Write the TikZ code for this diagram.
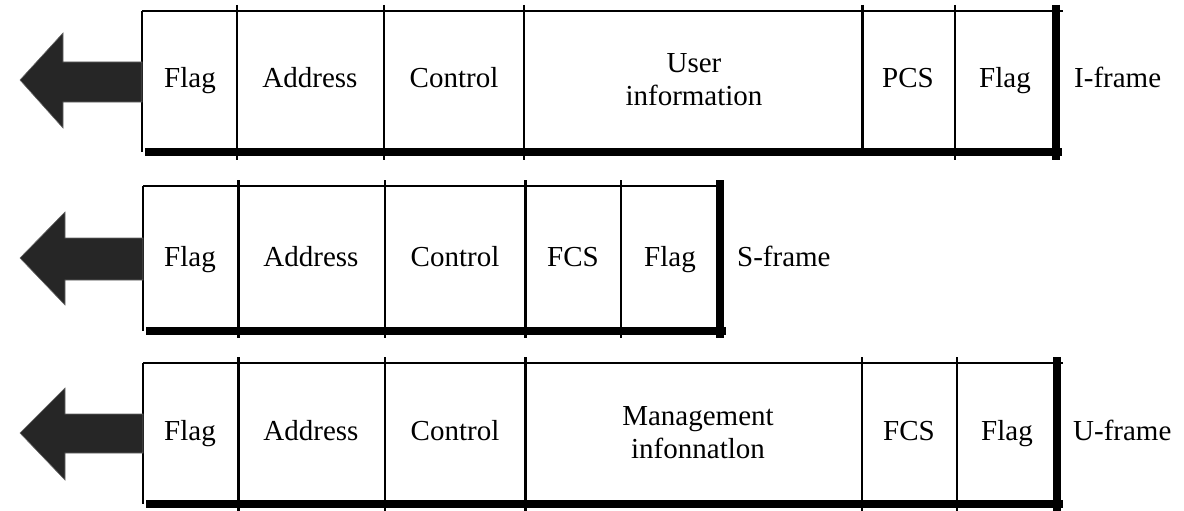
\documentclass[tikz,border=0pt]{standalone}
\usepackage{fontspec}
\setmainfont{Liberation Serif}
\begin{document}
\begin{tikzpicture}[x=1pt,y=-1pt,
  thinrule/.style={line width=1.3pt},
  midrule/.style={line width=3pt},
  heavyrule/.style={line width=8pt},
  lbl/.style={font=\fontsize{29}{35}\selectfont, text=black, inner sep=0pt, anchor=base},
  tag/.style={lbl, anchor=base west},
  flow/.style={fill=black!85, draw=black!60, line width=0.6pt}]
\useasboundingbox (0,0) rectangle (1184,511);

% ---------- I-frame ----------
\draw[thinrule] (142,11) -- (1063,11);
\draw[thinrule] (142,11) -- (142,152);
\foreach \x in {237,384,524,955} \draw[thinrule] (\x,5) -- (\x,160);
\draw[midrule] (862,5) -- (862,152);
\draw[heavyrule] (145,152) -- (1062,152);
\draw[heavyrule] (1056,5) -- (1056,160);
\fill[flow] (20,80) -- (63,33) -- (63,62) -- (142,62) -- (142,102) -- (63,102) -- (63,128) -- cycle;
\node[lbl] (iflag1) at (190,88) {Flag};
\node[lbl] (iaddr) at (310,88) {Address};
\node[lbl] (ictrl) at (454,88) {Control};
\node[lbl] (iuser) at (694,73) {User};
\node[lbl] (iinfo) at (694,106) {information};
\node[lbl] (ipcs) at (908,88) {PCS};
\node[lbl] (iflag2) at (1005,88) {Flag};
\node[tag] (itag) at (1074,88) {I-frame};

% ---------- S-frame ----------
\draw[thinrule] (143,186) -- (724,186);
\draw[thinrule] (143,186) -- (143,331);
\foreach \x in {385,621} \draw[thinrule] (\x,180) -- (\x,338);
\foreach \x in {238,525} \draw[midrule] (\x,180) -- (\x,338);
\draw[heavyrule] (146,331) -- (726,331);
\draw[heavyrule] (720,180) -- (720,338);
\fill[flow] (20,258) -- (65,212) -- (65,238) -- (143,238) -- (143,280) -- (65,280) -- (65,305) -- cycle;
\node[lbl] (sflag1) at (190,266) {Flag};
\node[lbl] (saddr) at (311,266) {Address};
\node[lbl] (sctrl) at (455,266) {Control};
\node[lbl] (sfcs) at (573,266) {FCS};
\node[lbl] (sflag2) at (670,266) {Flag};
\node[tag] (stag) at (737,266) {S-frame};

% ---------- U-frame ----------
\draw[thinrule] (143,363) -- (1063,363);
\draw[thinrule] (143,363) -- (143,504);
\foreach \x in {385,862,957} \draw[thinrule] (\x,357) -- (\x,511);
\foreach \x in {238,525} \draw[midrule] (\x,357) -- (\x,511);
\draw[heavyrule] (146,504) -- (1063,504);
\draw[heavyrule] (1057,357) -- (1057,511);
\fill[flow] (20,433) -- (65,388) -- (65,414) -- (143,414) -- (143,453) -- (65,453) -- (65,480) -- cycle;
\node[lbl] (uflag1) at (190,440) {Flag};
\node[lbl] (uaddr) at (311,440) {Address};
\node[lbl] (uctrl) at (455,440) {Control};
\node[lbl] (umgmt) at (698,425) {Management};
\node[lbl] (uinfo) at (698,458) {infonnatlon};
\node[lbl] (ufcs) at (909,440) {FCS};
\node[lbl] (uflag2) at (1007,440) {Flag};
\node[tag] (utag) at (1073,440) {U-frame};
\end{tikzpicture}
\end{document}
